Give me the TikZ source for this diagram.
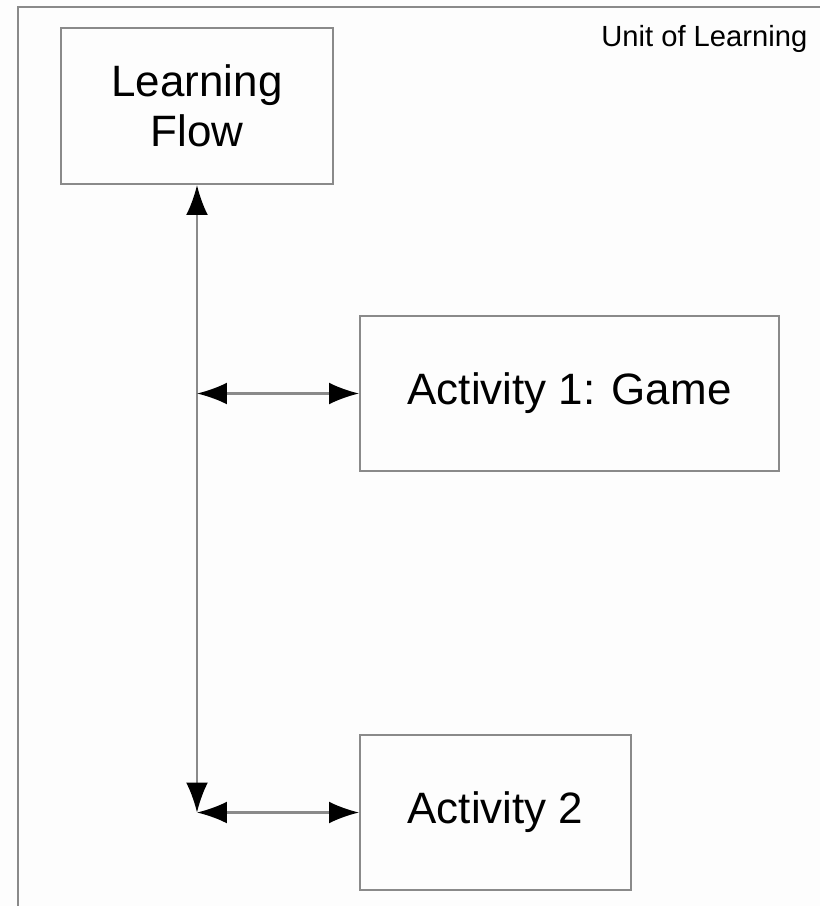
\documentclass[tikz,border=0pt]{standalone}
\usepackage{fontspec}
\setmainfont{Liberation Sans}
\usetikzlibrary{arrows.meta}
\definecolor{GREY}{HTML}{8A8A8A}
\definecolor{BLACK}{HTML}{000000}
\definecolor{PAPER}{HTML}{FDFDFD}
\tikzset{
    box/.style={draw=GREY, line width=0.6pt, align=center, inner sep=0pt,
        font=\fontsize{12.5}{14.2}\selectfont},
    link/.style={GREY, line width=0.6pt,
        {Latex[BLACK,length=8.5pt,width=6.2pt]}-{Latex[BLACK,length=8.5pt,width=6.2pt]}}
}

\begin{document}
\begin{tikzpicture}
    \fill[PAPER] (0,0) rectangle (8.2,-9.06);
    \useasboundingbox (0,0) rectangle (8.2,-9.06);
    \draw[GREY, line width=0.6pt] (0.18,-9.06) |- (8.2,-0.07);
    \node[BLACK, anchor=east, inner sep=0pt, font=\fontsize{8.3}{10}\selectfont] (unit) at (8.08,-0.39) {Unit of Learning};
    \node[box, minimum width=2.72cm, minimum height=1.56cm] (flow) at (1.97,-1.06) {Learning\\Flow};
    \node[box, minimum width=4.19cm, minimum height=1.55cm] (act1) at (5.695,-3.935) {Activity 1: Game};
    \node[box, minimum width=2.71cm, minimum height=1.55cm] (act2) at (4.955,-8.125) {Activity 2};
    \coordinate (j1) at (flow.south |- act1.west);
    \coordinate (j2) at (flow.south |- act2.west);
    \draw[link] (flow.south) -- (j2);
    \draw[link] (j1) -- (act1.west);
    \draw[link] (j2) -- (act2.west);
\end{tikzpicture}
\end{document}
